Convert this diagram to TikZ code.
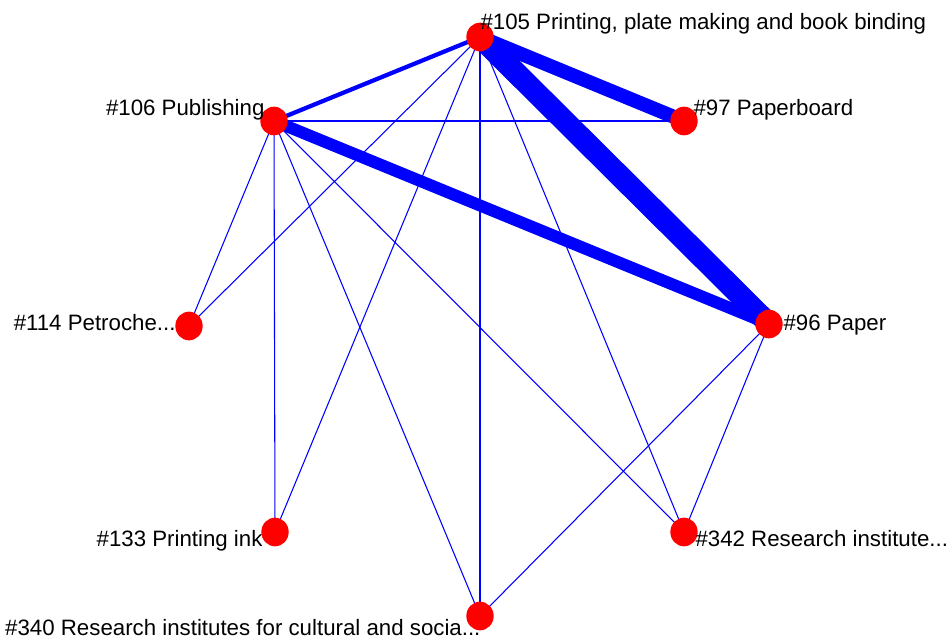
\documentclass[tikz,border=0pt]{standalone}
\usepackage{fontspec}
\setmainfont{Liberation Sans}
\usetikzlibrary{shapes.geometric,backgrounds}

\tikzset{every picture/.style={line width=0.75pt}}
\tikzset{
  vert/.style={ellipse, fill={rgb, 255:red, 255; green, 0; blue, 0}, draw=none, inner sep=0pt, minimum width=20.5pt, minimum height=21.5pt},
  lbl/.style={inner sep=0pt, font=\fontsize{16.7}{19}\selectfont},
  tie/.style={draw={rgb, 255:red, 0; green, 0; blue, 255}, line cap=butt}
}

\begin{document}
\begin{tikzpicture}[x=0.75pt,y=0.75pt,yscale=-1,xscale=1]
	\useasboundingbox (0,0) rectangle (951,641); %set diagram to 951 x 641

	%Shape: Vertices
	\node [vert] (n105) at (480,37) {};
	\node [vert] (n106) at (274,121) {};
	\node [vert] (n97) at (684,121) {};
	\node [vert] (n114) at (189,326) {};
	\node [vert] (n96) at (769,324) {};
	\node [vert] (n133) at (275,532) {};
	\node [vert] (n342) at (684,532) {};
	\node [vert] (n340) at (480,616) {};

	\begin{scope}[on background layer]
	%Straight Lines: heavy ties
	\draw [tie, line width=16.5pt] (n105.center) -- (n96.center) ;
	\draw [tie, line width=10.5pt] (n105.center) -- (n97.center) ;
	\draw [tie, line width=9pt] (n106.center) -- (n96.center) ;
	\draw [tie, line width=3.2pt] (n105.center) -- (n106.center) ;
	%Straight Lines: light ties
	\foreach \a/\b in {n106/n97, n105/n114, n105/n133, n105/n340, n105/n342, n106/n114, n106/n133, n106/n340, n106/n342, n96/n340, n96/n342}
		\draw [tie, line width=0.8pt] (\a.center) -- (\b.center) ;
	\end{scope}

	% Text Node
	\node [lbl, anchor=base west] (t105) at (480,29.5) {\#105 Printing, plate making and book binding};
	% Text Node
	\node [lbl, anchor=base east] (t106) at (265,116) {\#106 Publishing};
	% Text Node
	\node [lbl, anchor=base west] (t97) at (693,116) {\#97 Paperboard};
	% Text Node
	\node [lbl, anchor=base east] (t114) at (176,331) {\#114 Petroche...};
	% Text Node
	\node [lbl, anchor=base west] (t96) at (783,331) {\#96 Paper};
	% Text Node
	\node [lbl, anchor=base east] (t133) at (263,547) {\#133 Printing ink};
	% Text Node
	\node [lbl, anchor=base west] (t342) at (695,547) {\#342 Research institute...};
	% Text Node
	\node [lbl, anchor=base east] (t340) at (481,636) {\#340 Research institutes for cultural and socia...};

\end{tikzpicture}
\end{document}
